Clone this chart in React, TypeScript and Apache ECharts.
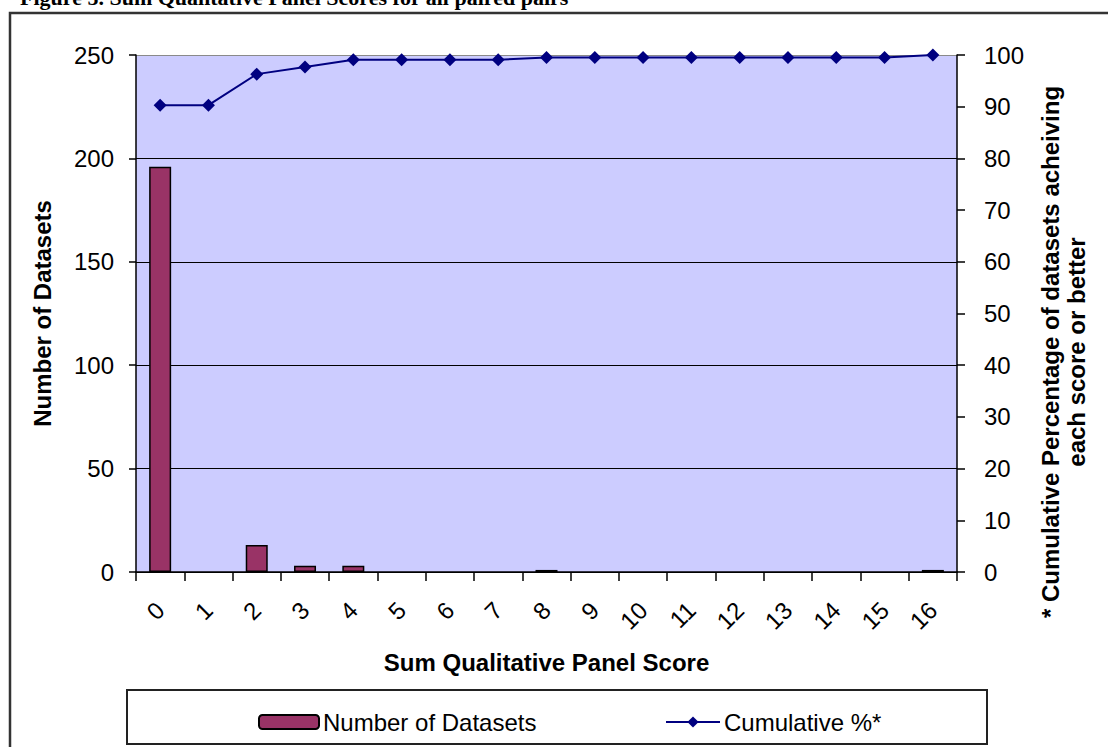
import React, { useEffect, useRef } from "react";
import * as echarts from "echarts";

const categories = ["0","1","2","3","4","5","6","7","8","9","10","11","12","13","14","15","16"];
const datasetCounts = [196, 0, 13, 3, 3, 0, 0, 0, 1, 0, 0, 0, 0, 0, 0, 0, 1];
const cumulativePct = [90.3, 90.3, 96.3, 97.7, 99.1, 99.1, 99.1, 99.1, 99.5, 99.5, 99.5, 99.5, 99.5, 99.5, 99.5, 99.5, 100];
const leftTicks = { min: 0, max: 250, interval: 50 };
const rightTicks = { min: 0, max: 100, interval: 10 };

const FONT = "'Liberation Sans', Arial, sans-serif";
const FS = 24;

export default function App() {
  const ref = useRef<HTMLDivElement>(null);
  useEffect(() => {
    if (!ref.current) return;
    const chart = echarts.init(ref.current, undefined, { renderer: "svg" });
    chart.setOption({
      animation: false,
      backgroundColor: "#ffffff",
      textStyle: { fontFamily: FONT },
      graphic: [
        {
          type: "rect",
          shape: { x: 10, y: 13, width: 1200, height: 800 },
          style: { fill: "none", stroke: "#333", lineWidth: 2.5 },
          z: 0,
        },
        {
          type: "text",
          x: 20,
          y: 8,
          style: {
            text: "Figure 5. Sum Qualitative Panel Scores for all paired pairs",
            font: "bold 22px 'Liberation Serif', 'Times New Roman', serif",
            fill: "#000",
            verticalAlign: "bottom",
          },
        },
        {
          type: "text",
          x: 1063,
          y: 352,
          rotation: Math.PI / 2,
          style: {
            text: "* Cumulative Percentage of datasets acheiving\neach score or better",
            font: `bold ${FS}px ${FONT}`,
            fill: "#000",
            align: "center",
            verticalAlign: "middle",
            lineHeight: 26,
          },
        },
        {
          type: "rect",
          shape: { x: 127, y: 690, width: 860, height: 54 },
          style: { fill: "#fff", stroke: "#222", lineWidth: 2 },
          z: 1,
        },
      ],
      legend: [
        {
          data: ["Number of Datasets"],
          left: 253,
          top: 705,
          itemWidth: 60,
          itemHeight: 14,
          itemGap: 5,
          textStyle: { fontSize: FS, color: "#000", fontFamily: FONT, padding: [0, 0, 0, -1] },
          z: 5,
        },
        {
          data: ["Cumulative %*"],
          left: 660,
          top: 705,
          itemWidth: 54,
          itemHeight: 14,
          textStyle: { fontSize: FS, color: "#000", fontFamily: FONT, padding: [0, 0, 0, -1] },
          z: 5,
        },
      ],
      grid: {
        left: 136,
        right: 151,
        top: 55,
        bottom: 175,
        show: true,
        backgroundColor: "#CCCCFF",
        borderWidth: 0,
      },
      xAxis: {
        type: "category",
        data: categories,
        name: "Sum Qualitative Panel Score",
        nameLocation: "middle",
        nameGap: 78,
        nameTextStyle: { fontSize: FS, fontWeight: "bold", color: "#000", fontFamily: FONT },
        axisLine: { lineStyle: { color: "#000", width: 1.5 } },
        axisTick: { show: true, length: 9, lineStyle: { color: "#000", width: 1.5 } },
        axisLabel: { rotate: 45, fontSize: FS, color: "#000", margin: 34, fontFamily: FONT },
        splitLine: { show: false },
      },
      yAxis: [
        {
          type: "value",
          min: leftTicks.min,
          max: leftTicks.max,
          interval: leftTicks.interval,
          position: "left",
          name: "Number of Datasets",
          nameLocation: "middle",
          nameGap: 82,
          nameRotate: 90,
          nameTextStyle: { fontSize: FS, fontWeight: "bold", color: "#000", fontFamily: FONT },
          axisLine: { show: true, lineStyle: { color: "#000", width: 1.5 } },
          axisTick: { show: true, length: 7, lineStyle: { color: "#000", width: 1.5 } },
          axisLabel: { fontSize: FS, color: "#000", margin: 22, fontFamily: FONT },
          splitLine: {
            show: true,
            lineStyle: { color: ["#000", "#000", "#000", "#000", "#000", "#8a8a8a"], width: 1.2 },
          },
        },
        {
          type: "value",
          min: rightTicks.min,
          max: rightTicks.max,
          interval: rightTicks.interval,
          position: "right",
          axisLine: { show: true, lineStyle: { color: "#000", width: 1.5 } },
          axisTick: { show: true, length: 8, lineStyle: { color: "#000", width: 1.5 } },
          axisLabel: { fontSize: FS, color: "#000", margin: 27, fontFamily: FONT },
          splitLine: { show: false },
        },
      ],
      series: [
        {
          name: "Number of Datasets",
          type: "bar",
          data: datasetCounts.map((v) => (v === 0 ? "-" : v)),
          yAxisIndex: 0,
          barWidth: 22,
          itemStyle: { color: "#993366", borderColor: "#000", borderWidth: 1.5 },
        },
        {
          name: "Cumulative %*",
          type: "line",
          data: cumulativePct,
          yAxisIndex: 1,
          symbol: "diamond",
          symbolSize: 13,
          lineStyle: { color: "#000080", width: 2 },
          itemStyle: { color: "#000080" },
        },
      ],
    });
    return () => chart.dispose();
  }, []);
  return (
    <div
      ref={ref}
      style={{ position: "fixed", left: 0, top: 0, width: 1108, height: 747 }}
    />
  );
}
